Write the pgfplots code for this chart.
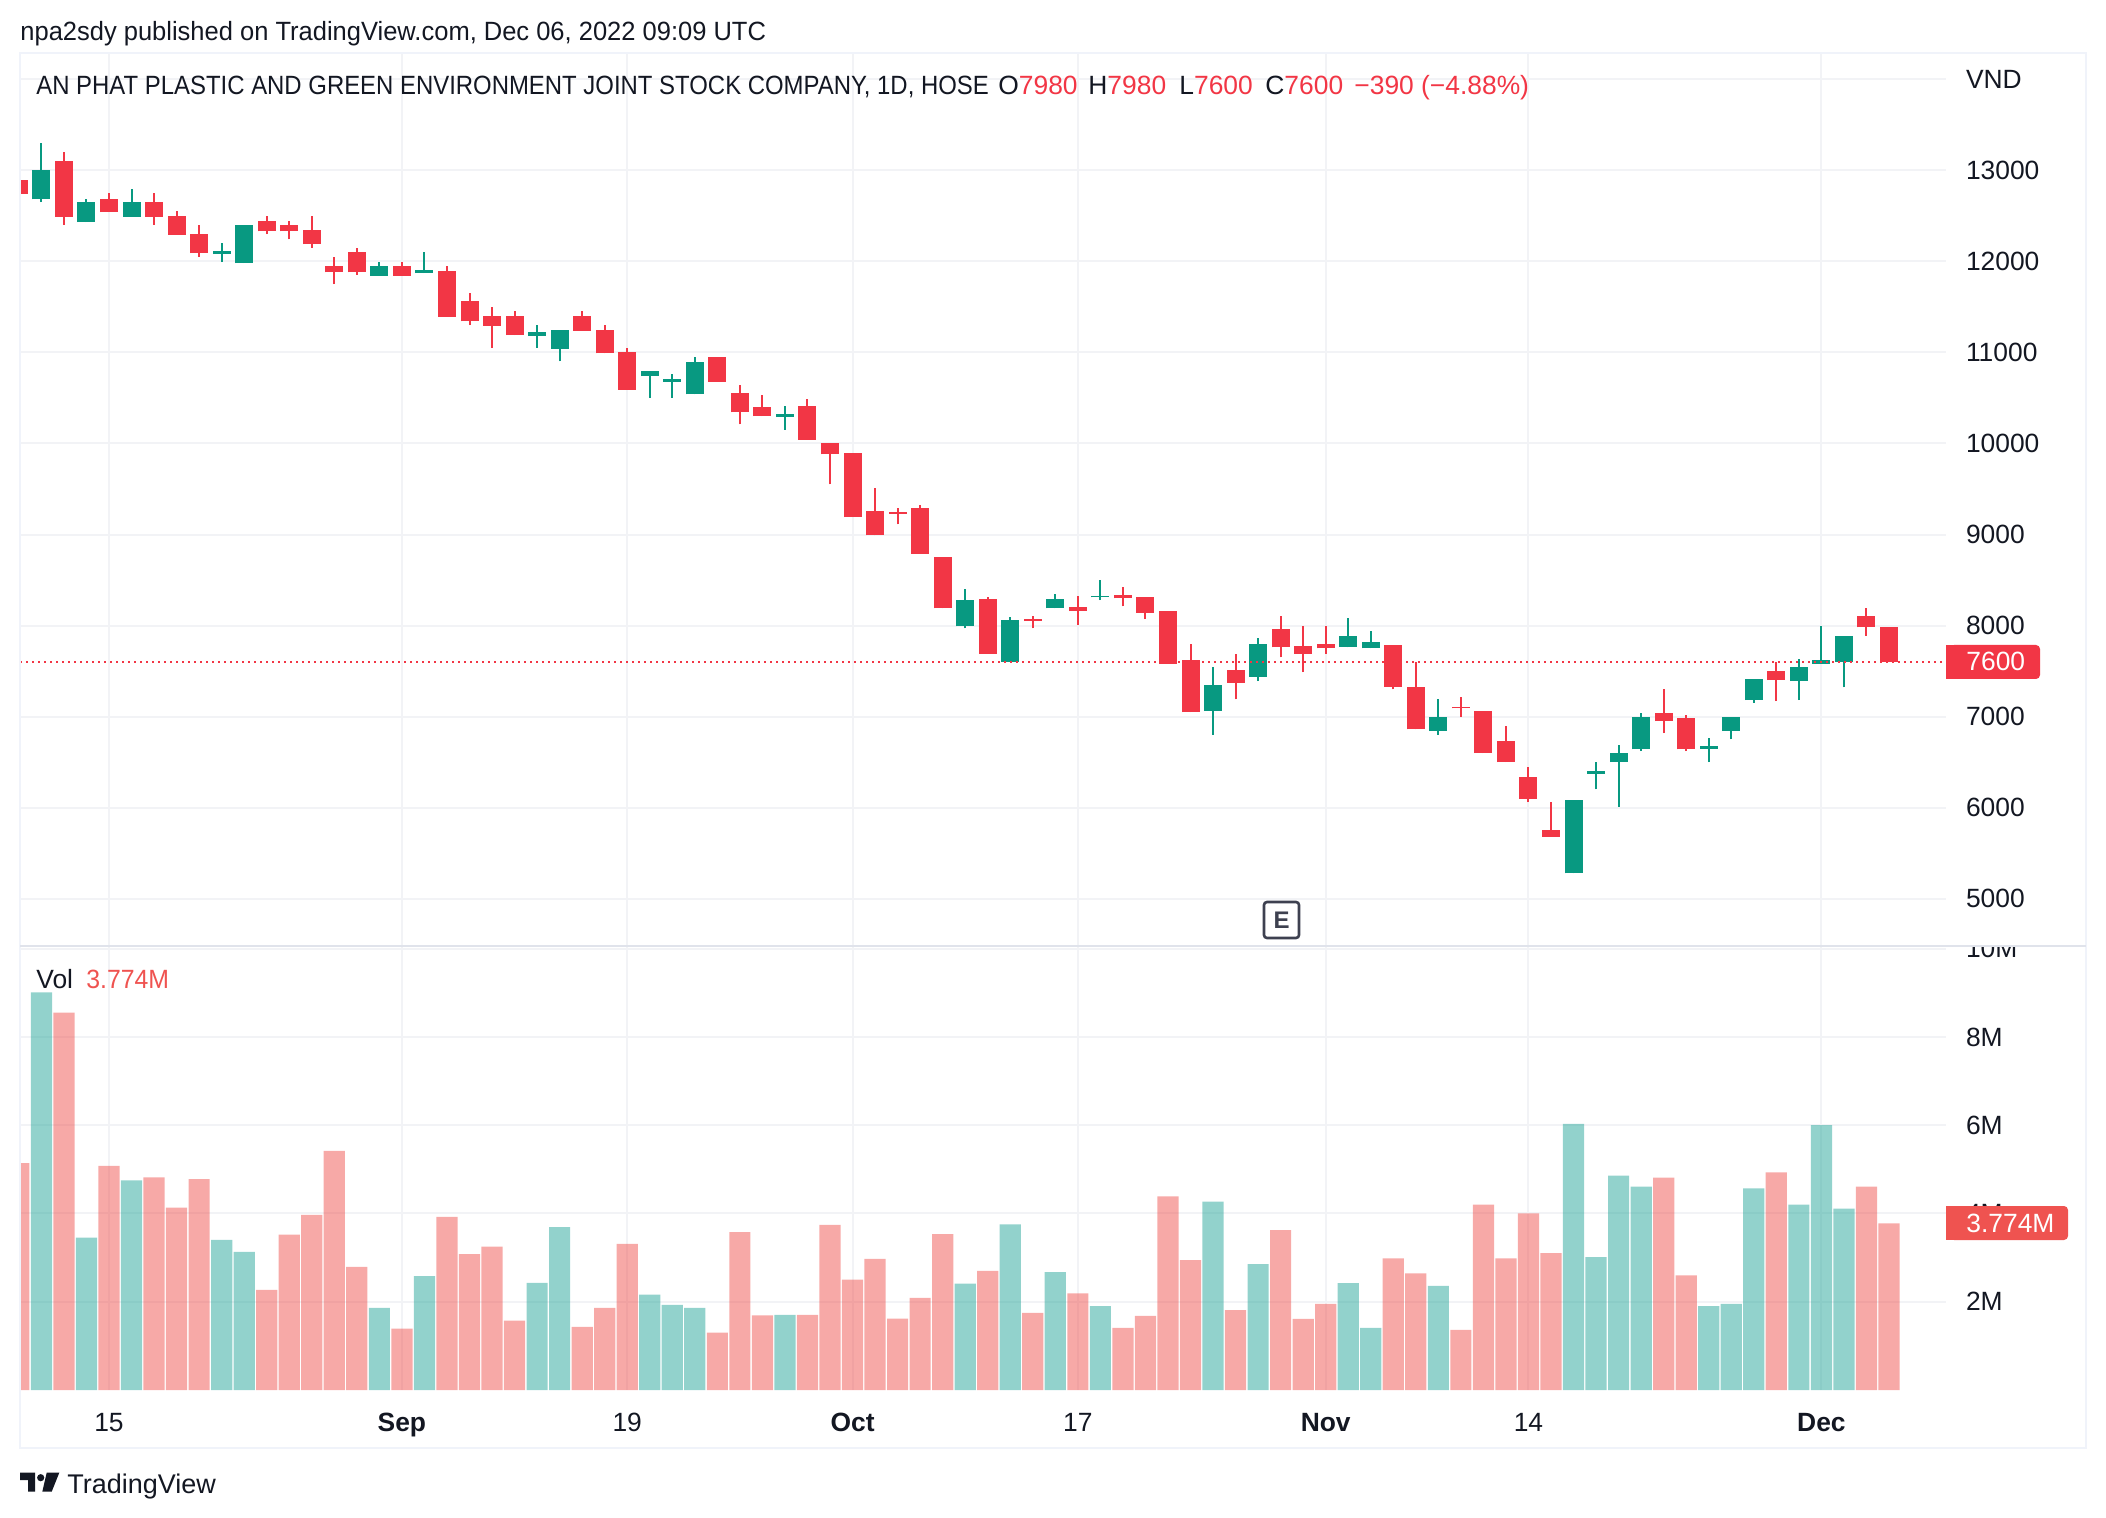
\documentclass[border=0pt]{standalone}
\usepackage{pgfplots}
\usepackage{pgfplotstable}
\usepackage{fontspec}
\pgfplotsset{compat=1.18}
\setmainfont{Liberation Sans}
\newfontfamily\titlefont[FakeStretch=0.906]{Liberation Sans}
\newfontfamily\pubfont[FakeStretch=0.966]{Liberation Sans}
\newfontfamily\volfont[FakeStretch=0.94]{Liberation Sans}
\definecolor{cRed}{HTML}{F23645}
\definecolor{cGreen}{HTML}{089981}
\definecolor{vRed}{HTML}{EF5350}
\definecolor{vGreen}{HTML}{26A69A}
\definecolor{cGrid}{HTML}{F2F3F6}
\definecolor{cFrame}{HTML}{F0F3FA}
\definecolor{cSep}{HTML}{E0E3EB}
\definecolor{cText}{HTML}{131722}
\definecolor{cMark}{HTML}{3E4150}
\pgfplotstableread{
x O H L C
0 12890 12890 12740 12740
2 13100 13200 12400 12490
4 12690 12750 12540 12540
6 12650 12750 12400 12490
7 12500 12550 12290 12290
8 12300 12400 12050 12090
11 12440 12500 12300 12330
12 12400 12440 12240 12330
13 12340 12500 12150 12190
14 11950 12050 11750 11880
15 12100 12150 11850 11880
17 11950 11990 11840 11840
19 11890 11950 11390 11390
20 11560 11650 11300 11340
21 11400 11500 11050 11290
22 11400 11450 11190 11190
25 11400 11450 11240 11240
26 11250 11300 10990 10990
27 11000 11050 10590 10590
31 10950 10950 10680 10680
32 10550 10640 10210 10340
33 10400 10530 10300 10300
35 10410 10490 10040 10040
36 10000 10000 9550 9880
37 9890 9900 9190 9190
38 9260 9510 8990 8990
39 9250 9290 9110 9230
40 9290 9320 8790 8790
41 8750 8750 8190 8190
43 8290 8310 7690 7690
45 8070 8100 7970 8050
47 8200 8320 8010 8160
49 8340 8420 8210 8300
50 8310 8310 8070 8140
51 8160 8160 7580 7580
52 7620 7800 7050 7050
54 7510 7690 7190 7370
56 7960 8100 7650 7760
57 7780 7990 7490 7690
58 7800 7990 7690 7750
61 7790 7790 7300 7330
62 7330 7600 6860 6860
64 7110 7220 7000 7090
65 7060 7060 6600 6600
66 6730 6900 6500 6500
67 6340 6450 6060 6100
68 5750 6060 5680 5680
73 7040 7300 6820 6950
74 6980 7020 6620 6640
78 7500 7600 7170 7400
82 8100 8190 7890 7980
83 7980 7980 7600 7600
}\redT
\pgfplotstableread{
x O H L C
1 12680 13300 12650 13000
3 12430 12690 12430 12650
5 12490 12790 12490 12650
9 12080 12200 11990 12110
10 11980 12400 11980 12400
16 11840 11990 11840 11950
18 11870 12100 11870 11910
23 11180 11300 11050 11220
24 11040 11250 10900 11250
28 10740 10800 10500 10800
29 10680 10760 10500 10710
30 10540 10950 10540 10900
34 10290 10410 10150 10320
42 7990 8400 7970 8280
44 7600 8090 7600 8060
46 8190 8350 8190 8290
48 8310 8500 8280 8330
53 7060 7540 6800 7350
55 7440 7860 7390 7800
59 7770 8080 7760 7890
60 7750 7940 7750 7820
63 6840 7190 6800 7000
69 5280 6080 5280 6080
70 6370 6500 6200 6400
71 6500 6690 6010 6600
72 6640 7040 6620 7000
75 6650 6770 6500 6680
76 6840 7000 6750 7000
77 7180 7410 7150 7410
79 7390 7630 7180 7550
80 7580 8000 7580 7620
81 7600 7880 7320 7880
}\greenT
\pgfplotstableread{
x v
0 5.14
2 8.55
4 5.08
6 4.82
7 4.13
8 4.78
11 2.27
12 3.52
13 3.97
14 5.42
15 2.79
17 1.39
19 3.92
20 3.08
21 3.25
22 1.57
25 1.43
26 1.86
27 3.31
31 1.30
32 3.58
33 1.69
35 1.70
36 3.74
37 2.50
38 2.97
39 1.62
40 2.09
41 3.53
43 2.70
45 1.75
47 2.19
49 1.41
50 1.68
51 4.39
52 2.94
54 1.81
56 3.62
57 1.61
58 1.95
61 2.98
62 2.64
64 1.36
65 4.20
66 2.98
67 4.00
68 3.10
73 4.81
74 2.60
78 4.93
82 4.61
83 3.774
}\volRed
\pgfplotstableread{
x v
1 9.01
3 3.45
5 4.75
9 3.40
10 3.13
16 1.86
18 2.58
23 2.43
24 3.69
28 2.16
29 1.93
30 1.86
34 1.70
42 2.41
44 3.75
46 2.67
48 1.90
53 4.27
55 2.85
59 2.42
60 1.41
63 2.36
69 6.03
70 3.01
71 4.86
72 4.61
75 1.90
76 1.95
77 4.57
79 4.20
80 6.00
81 4.11
}\volGreen
\newcommand{\tvfont}{\fontsize{13.2}{15}\selectfont}
\pgfplotsset{common/.style={
  scale only axis, width=963pt, xmin=0.05, xmax=85.53,
  axis line style={draw=none}, tick style={draw=none}, major tick length=0pt,
  scaled y ticks=false, scaled x ticks=false,
  grid=major, major grid style={color=cGrid,line width=1pt},
  xtick={4,17,27,37,47,58,67,80},
  ytick pos=right, yticklabel pos=right,
  y tick label style={anchor=west,inner sep=0pt,outer sep=0pt,xshift=10pt,text=cText,font=\tvfont},
  x tick label style={anchor=base,inner sep=0pt,outer sep=0pt,yshift=-20.5pt,text=cText,font=\tvfont},
}}
\begin{document}
\begin{tikzpicture}
\useasboundingbox (0,0) rectangle (1053pt,-759pt);
% volume pane
\begin{axis}[common, at={(10pt,-473pt)}, anchor=north west, height=222pt,
  ymin=0, ymax=10.06, ytick={2,4,6,8,10}, yticklabels={2M,4M,6M,8M,10M},
  xticklabels={15,\textbf{Sep},19,\textbf{Oct},17,\textbf{Nov},14,\textbf{Dec}},
  ybar, bar width=10.6pt]
\addplot[bar shift=0pt, draw=none, fill=vRed, fill opacity=0.5] table[x=x,y=v] {\volRed};
\addplot[bar shift=0pt, draw=none, fill=vGreen, fill opacity=0.5] table[x=x,y=v] {\volGreen};
\end{axis}
\fill[white] (10pt,-26.5pt) rectangle (1043pt,-473pt);
% price pane
\begin{axis}[common, at={(10pt,-26.5pt)}, anchor=north west, height=446.5pt,
  ymin=4481, ymax=14288, ytick={5000,6000,...,14000},
  yticklabels={5000,6000,7000,8000,9000,10000,11000,12000,13000,VND},
  xticklabels={}]
\addplot[draw=none,mark=none,forget plot,error bars/.cd,y dir=plus,y explicit,error mark=none,
  error bar style={line width=1pt,color=cRed}] table[x=x,y=L,y error plus expr=\thisrow{H}-\thisrow{L}] {\redT};
\addplot[draw=none,mark=none,forget plot,error bars/.cd,y dir=plus,y explicit,error mark=none,
  error bar style={line width=9pt,color=cRed}] table[x=x,y=C,y error plus expr=\thisrow{O}-\thisrow{C}] {\redT};
\addplot[draw=none,mark=none,forget plot,error bars/.cd,y dir=plus,y explicit,error mark=none,
  error bar style={line width=1pt,color=cGreen}] table[x=x,y=L,y error plus expr=\thisrow{H}-\thisrow{L}] {\greenT};
\addplot[draw=none,mark=none,forget plot,error bars/.cd,y dir=plus,y explicit,error mark=none,
  error bar style={line width=9pt,color=cGreen}] table[x=x,y=O,y error plus expr=\thisrow{C}-\thisrow{O}] {\greenT};
\addplot[cRed,line width=0.8pt,dash pattern=on 1pt off 2pt,forget plot] coordinates {(0.05,7600)(85.53,7600)};
\end{axis}
\begin{scope}[x=0.5pt,y=-0.5pt]
\draw[cFrame,line width=1pt] (20,53) rectangle (2086,1448);
\draw[cSep,line width=1pt] (20,946) -- (2086,946);
\node[anchor=base west,inner sep=0pt,font=\tvfont\pubfont,text=cText] at (20,41) {npa2sdy published on TradingView.com, Dec 06, 2022 09:09 UTC};
\node[anchor=base west,inner sep=0pt,font=\tvfont\titlefont,text=cText] at (36,95) {AN PHAT PLASTIC AND GREEN ENVIRONMENT JOINT STOCK COMPANY, 1D, HOSE};
\node[anchor=base west,inner sep=0pt,font=\tvfont,text=cText] at (998,95) {O\textcolor{cRed}{7980}};
\node[anchor=base west,inner sep=0pt,font=\tvfont,text=cText] at (1088,95) {H\textcolor{cRed}{7980}};
\node[anchor=base west,inner sep=0pt,font=\tvfont,text=cText] at (1179,95) {L\textcolor{cRed}{7600}};
\node[anchor=base west,inner sep=0pt,font=\tvfont,text=cText] at (1265,95) {C\textcolor{cRed}{7600}};
\node[anchor=base west,inner sep=0pt,font=\tvfont,text=cRed] at (1354,95) {−390 (−4.88\%)};
\node[anchor=base west,inner sep=0pt,font=\tvfont,text=cText] at (36,988) {Vol};
\node[anchor=base west,inner sep=0pt,font=\tvfont\volfont,text=vRed] at (86,988) {3.774M};
\node[anchor=base west,inner sep=0pt,font=\fontsize{13.5}{15}\selectfont,text=cText] at (67,1493) {TradingView};
% price labels
\fill[cRed,rounded corners=2pt] (1950,645) rectangle (2040,679);
\fill[cRed] (1946,645) rectangle (1960,679);
\node[anchor=base west,inner sep=0pt,font=\tvfont,text=white] at (1966,671) {7600};
\fill[vRed,rounded corners=2pt] (1950,1206) rectangle (2068,1240);
\fill[vRed] (1946,1206) rectangle (1960,1240);
\node[anchor=base west,inner sep=0pt,font=\tvfont,text=white] at (1966,1232) {3.774M};
% earnings marker
\draw[cMark,line width=1.3pt,rounded corners=1.5pt,fill=white] (1264,902) rectangle (1299,938);
\node[inner sep=0pt,font=\fontsize{12}{14}\selectfont\bfseries,text=cMark] at (1281.5,920) {E};
% logo
\fill[cText] (20,1472.7) -- (35,1472.7) -- (35,1491.7) -- (28,1491.7) -- (28,1480) -- (20,1480) -- cycle;
\fill[cText] (40.7,1477.7) circle (3.6);
\fill[cText] (46.7,1472.7) -- (59.3,1472.7) -- (51.7,1491.7) -- (42.3,1491.7) -- cycle;
\end{scope}
\end{tikzpicture}
\end{document}
